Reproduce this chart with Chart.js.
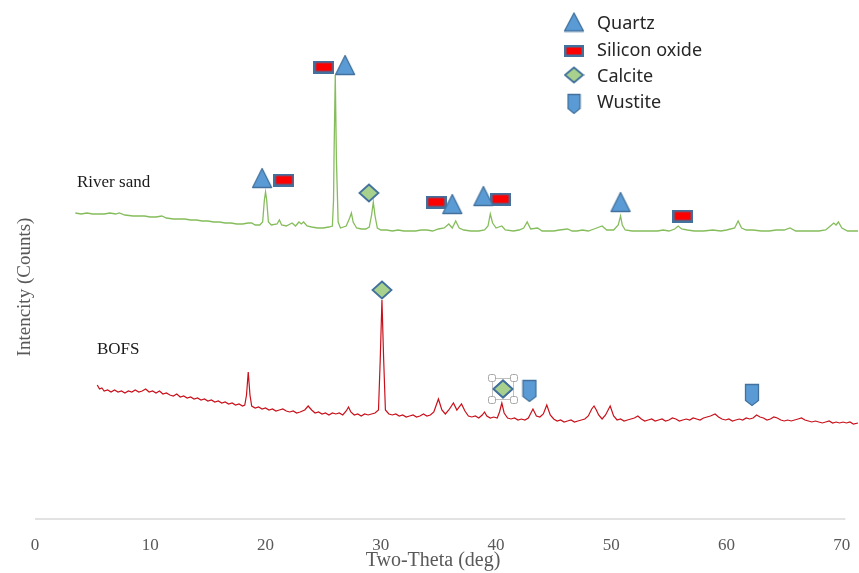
<!DOCTYPE html>
<html>
<head>
<meta charset="utf-8">
<script src="https://cdn.jsdelivr.net/npm/chart.js@4.4.1/dist/chart.umd.min.js"></script>
<style>
html,body{margin:0;padding:0;background:#fff;}
#wrap{width:859px;height:573px;position:relative;}
</style>
</head>
<body>
<div id="wrap"><canvas id="c" width="859" height="573"></canvas></div>
<script>
// ---- DATA ----
const xTicks = [0, 10, 20, 30, 40, 50, 60, 70];

const sandTheta = [3.5,4.0,4.5,5.0,5.5,6.0,6.5,7.0,7.3,7.8,8.5,9.0,9.5,10.0,10.5,11.0,11.4,12.0,12.5,13.0,13.5,14.0,14.5,15.0,15.5,16.0,16.5,17.0,17.5,18.0,18.5,18.8,19.1,19.5,19.75,19.9,20.0,20.1,20.25,20.5,21.0,21.2,21.4,21.8,22.3,22.6,22.9,23.1,23.3,23.6,24.0,24.5,25.0,25.5,25.8,25.9,25.95,26.05,26.15,26.3,26.5,27.0,27.3,27.45,27.6,27.9,28.3,28.7,29.0,29.2,29.35,29.5,29.7,30.0,30.5,31.0,31.5,32.0,32.5,33.0,33.5,34.0,34.5,35.0,35.5,35.9,36.2,36.5,36.8,37.2,37.8,38.5,39.0,39.3,39.5,39.7,40.0,40.5,40.8,41.5,42.0,42.4,42.7,43.0,43.6,44.0,44.5,45.0,45.5,46.2,46.6,47.0,47.5,48.0,48.5,49.2,49.6,50.2,50.6,50.8,50.95,51.2,51.8,52.5,53.0,53.5,54.0,54.5,55.0,55.5,55.8,56.1,56.6,57.2,58.0,58.8,59.5,60.0,60.7,61.0,61.3,61.7,62.3,63.0,63.7,64.3,65.0,65.5,66.0,66.8,67.5,68.0,68.6,69.0,69.3,69.5,69.7,70.0,70.5,71.0,71.4];
const sandCounts = [306,305,306,305,305,305,306,305,306,304,303,303,303,302,302,303,301,300,300,300,299,299,298,298,297,297,296,296,295,295,296,296,294,294,297,319,327,319,297,294,295,299,294,293,296,293,297,295,297,293,292,291,291,292,293,319,369,444,359,297,291,293,301,306,297,291,290,290,292,304,317,303,291,289,289,288,289,288,288,288,289,289,288,290,291,295,291,298,291,289,288,288,289,293,305,296,291,293,289,288,289,291,297,290,291,288,288,288,289,290,288,288,289,288,290,293,289,289,294,303,294,289,288,288,288,288,288,289,288,290,293,290,289,288,288,289,288,289,291,298,291,289,289,288,288,289,289,291,288,288,288,288,289,293,296,294,297,291,288,288,288];

const bofsTheta = [5.4,5.6,5.8,6.0,6.3,6.6,6.9,7.2,7.5,7.8,8.1,8.4,8.7,9.0,9.3,9.6,9.9,10.2,10.5,10.8,11.1,11.4,11.7,12.0,12.3,12.6,12.9,13.2,13.5,13.8,14.1,14.4,14.7,15.0,15.3,15.6,15.9,16.2,16.5,16.8,17.1,17.4,17.7,18.0,18.2,18.35,18.5,18.65,18.8,19.1,19.4,19.7,20.0,20.3,20.6,20.9,21.2,21.5,21.8,22.1,22.4,22.7,23.0,23.4,23.7,24.0,24.3,24.6,24.9,25.2,25.5,25.8,26.1,26.4,26.7,27.0,27.2,27.4,27.7,28.0,28.3,28.6,28.9,29.2,29.5,29.8,29.95,30.1,30.25,30.4,30.7,31.0,31.3,31.6,31.9,32.2,32.5,32.8,33.1,33.4,33.7,34.0,34.3,34.6,35.0,35.3,35.6,35.9,36.3,36.6,37.0,37.3,37.6,37.9,38.2,38.5,38.8,39.0,39.2,39.5,39.8,40.1,40.3,40.5,40.7,41.0,41.3,41.6,41.9,42.2,42.5,42.8,43.2,43.5,43.8,44.1,44.4,44.7,45.0,45.3,45.6,45.9,46.2,46.5,46.8,47.1,47.4,47.7,48.0,48.3,48.5,48.7,48.9,49.2,49.5,49.9,50.2,50.5,50.8,51.1,51.4,51.7,52.0,52.3,52.6,52.9,53.2,53.5,53.8,54.1,54.4,54.7,55.0,55.3,55.6,55.9,56.2,56.5,56.8,57.1,57.4,57.7,58.0,58.3,58.6,59.0,59.3,59.6,59.9,60.2,60.5,60.8,61.1,61.4,61.7,62.0,62.3,62.6,62.9,63.2,63.5,63.8,64.1,64.4,64.7,65.0,65.3,65.6,65.9,66.2,66.5,66.8,67.1,67.4,67.7,68.0,68.3,68.6,68.9,69.2,69.5,69.8,70.1,70.4,70.7,71.0,71.4];
const bofsCounts = [134,130,131,128,129,127,129,127,128,126,128,127,129,127,128,130,127,128,126,128,125,126,124,123,125,122,123,121,122,120,121,119,120,118,119,117,118,116,117,115,116,114,115,113,114,124,147,124,113,111,112,110,111,109,110,108,109,110,108,107,108,106,107,109,113,109,106,107,105,106,104,106,105,106,104,108,112,107,104,105,103,105,104,105,106,109,159,219,159,109,105,104,105,103,104,102,103,104,102,103,105,103,104,107,120,109,105,109,116,109,115,108,103,102,103,101,104,107,103,101,102,101,107,116,106,101,100,101,99,100,99,101,110,103,102,105,114,104,100,98,99,97,98,99,97,98,99,100,103,110,113,109,104,100,104,113,103,99,100,98,99,100,101,103,100,98,99,100,98,99,100,98,99,101,100,98,99,100,99,101,100,99,101,102,103,105,102,100,99,100,98,99,100,99,101,100,101,104,102,101,99,100,102,101,99,98,99,98,99,100,101,99,98,97,98,97,96,97,98,96,97,96,97,96,97,95,96];

// phase markers [2-theta, counts]
const quartzTheta = [19.7, 26.9, 36.2, 38.9, 50.8];
const quartzCounts = [341, 454, 315, 323, 317];
const siliconTheta = [21.6, 25.07, 34.8, 40.4, 56.2];
const siliconCounts = [339, 452, 317, 320, 303];
const calciteTheta = [28.97, 30.1, 40.6];
const calciteCounts = [326, 229, 130];
const wustiteTheta = [42.9, 62.2];
const wustiteCounts = [128, 124];

const legendLabels = ['Quartz', 'Silicon oxide', 'Calcite', 'Wustite'];

// ---- marker images ----
const BLUE = '#5B9BD5', EDGE = '#41719C';
function mk(w, h, draw) {
  const c = document.createElement('canvas');
  c.width = w; c.height = h;
  const g = c.getContext('2d');
  draw(g, w, h);
  return c;
}
function triangle(w, h) {
  return mk(w + 3, h + 3, (g) => {
    g.beginPath(); g.moveTo(1.5 + w / 2, 1.5); g.lineTo(1.5 + w, 1.5 + h); g.lineTo(1.5, 1.5 + h); g.closePath();
    g.fillStyle = BLUE; g.fill(); g.lineWidth = 1.3; g.strokeStyle = EDGE; g.lineJoin = 'round'; g.stroke();
  });
}
function rect(w, h) {
  return mk(w, h, (g) => {
    g.fillStyle = EDGE; g.fillRect(0, 0, w, h);
    g.fillStyle = '#FF0000'; g.fillRect(2.5, 2.5, w - 5, h - 5);
  });
}
function diamond(w, h) {
  return mk(w + 3, h + 3, (g) => {
    g.beginPath(); g.moveTo(1.5 + w / 2, 1.5); g.lineTo(1.5 + w, 1.5 + h / 2); g.lineTo(1.5 + w / 2, 1.5 + h); g.lineTo(1.5, 1.5 + h / 2); g.closePath();
    g.fillStyle = '#A9D18E'; g.fill(); g.lineWidth = 1.8; g.strokeStyle = EDGE; g.stroke();
  });
}
function pentagon(w, h) {
  return mk(w + 3, h + 3, (g) => {
    const t = 1.5;
    g.beginPath(); g.moveTo(t, t); g.lineTo(t + w, t); g.lineTo(t + w, t + h - 5); g.lineTo(t + w / 2, t + h); g.lineTo(t, t + h - 5); g.closePath();
    g.fillStyle = BLUE; g.fill(); g.lineWidth = 1.3; g.strokeStyle = EDGE; g.stroke();
  });
}
const imgQuartz = triangle(19, 19), imgSilicon = rect(21, 13), imgCalcite = diamond(19, 17), imgWustite = pentagon(13, 21);
const legQuartz = triangle(19, 18), legSilicon = rect(20, 12), legCalcite = diamond(18, 15), legWustite = pentagon(12, 19);

const pts = (xs, ys) => xs.map((x, i) => ({ x: x, y: ys[i] }));

const markerDs = (label, xs, ys, img) => ({
  label, data: pts(xs, ys), showLine: false, pointStyle: img, pointRadius: 6, pointHoverRadius: 6,
  borderWidth: 0, clip: false
});

const SERIF = '"Liberation Serif", "Times New Roman", serif';

const overlay = {
  id: 'overlay',
  afterDraw(chart) {
    const ctx = chart.ctx, xs = chart.scales.x, ys = chart.scales.y;
    // axis line
    ctx.save();
    ctx.strokeStyle = '#D9D9D9'; ctx.lineWidth = 1.5;
    ctx.beginPath(); ctx.moveTo(xs.getPixelForValue(0), ys.getPixelForValue(0)); ctx.lineTo(xs.getPixelForValue(70.3), ys.getPixelForValue(0)); ctx.stroke();
    // selection handles around the BOFS calcite marker
    const sx = xs.getPixelForValue(calciteTheta[2]), sy = ys.getPixelForValue(calciteCounts[2]);
    ctx.strokeStyle = '#BFBFBF'; ctx.lineWidth = 1;
    ctx.strokeRect(sx - 10.5, sy - 10.5, 21, 21);
    ctx.fillStyle = '#fff'; ctx.strokeStyle = '#A6A6A6';
    [[-11, -11], [11, -11], [-11, 11], [11, 11]].forEach(([dx, dy]) => {
      ctx.beginPath(); ctx.roundRect(sx + dx - 3.5, sy + dy - 3.5, 7, 7, 2); ctx.fill(); ctx.stroke();
    });
    ctx.restore();
    // redraw that marker on top of the frame
    ctx.drawImage(imgCalcite, sx - imgCalcite.width / 2, sy - imgCalcite.height / 2);

    // axis titles
    ctx.save();
    ctx.font = '20px ' + SERIF; ctx.fillStyle = '#595959'; ctx.textAlign = 'center'; ctx.textBaseline = 'middle';
    ctx.fillText('Two-Theta (deg)', 433, 561);
    ctx.translate(25, 287); ctx.rotate(-Math.PI / 2);
    ctx.font = '19px ' + SERIF;
    ctx.fillText('Intencity (Counts)', 0, 0);
    ctx.restore();

    // sample labels
    ctx.save();
    ctx.font = '17px ' + SERIF; ctx.fillStyle = '#1a1a1a'; ctx.textBaseline = 'middle'; ctx.textAlign = 'left';
    ctx.fillText('River sand', 77, 183);
    ctx.fillText('BOFS', 97, 350);
    ctx.restore();

    // legend
    const legImgs = [legQuartz, legSilicon, legCalcite, legWustite];
    const legY = [22, 51, 75, 104];
    const txtY = [24, 51, 77, 103];
    ctx.save();
    ctx.font = '18px "Noto Sans", "Open Sans", sans-serif'; ctx.fillStyle = '#262626'; ctx.textBaseline = 'middle';
    legImgs.forEach((im, i) => {
      ctx.drawImage(im, 574 - im.width / 2, legY[i] - im.height / 2);
      ctx.fillText(legendLabels[i], 597, txtY[i]);
    });
    ctx.restore();
  }
};

new Chart(document.getElementById('c'), {
  type: 'line',
  data: {
    datasets: [
      markerDs('Quartz', quartzTheta, quartzCounts, imgQuartz),
      markerDs('Silicon oxide', siliconTheta, siliconCounts, imgSilicon),
      markerDs('Calcite', calciteTheta, calciteCounts, imgCalcite),
      markerDs('Wustite', wustiteTheta, wustiteCounts, imgWustite),
      { label: 'River sand', data: pts(sandTheta, sandCounts), borderColor: '#86BD5C', borderWidth: 1.3, pointRadius: 0, tension: 0, clip: false },
      { label: 'BOFS', data: pts(bofsTheta, bofsCounts), borderColor: '#C8101A', borderWidth: 1.2, pointRadius: 0, tension: 0, clip: false }
    ]
  },
  options: {
    responsive: false,
    animation: false,
    layout: { autoPadding: false, padding: { left: 35, right: 1, top: 0, bottom: 0 } },
    plugins: { legend: { display: false }, tooltip: { enabled: false } },
    scales: {
      x: {
        type: 'linear', min: 0, max: 71.4,
        afterFit: (s) => { s.height = 54; s.paddingLeft = 0; s.paddingRight = 0; },
        afterBuildTicks: (s) => { s.ticks = xTicks.map(v => ({ value: v })); },
        grid: { display: false, drawTicks: false },
        border: { display: false },
        ticks: { padding: 16, color: '#595959', font: { family: SERIF, size: 17 }, maxRotation: 0 },
        title: { display: false }
      },
      y: { display: false, min: 0, max: 519 }
    }
  },
  plugins: [overlay]
});
</script>
</body>
</html>
